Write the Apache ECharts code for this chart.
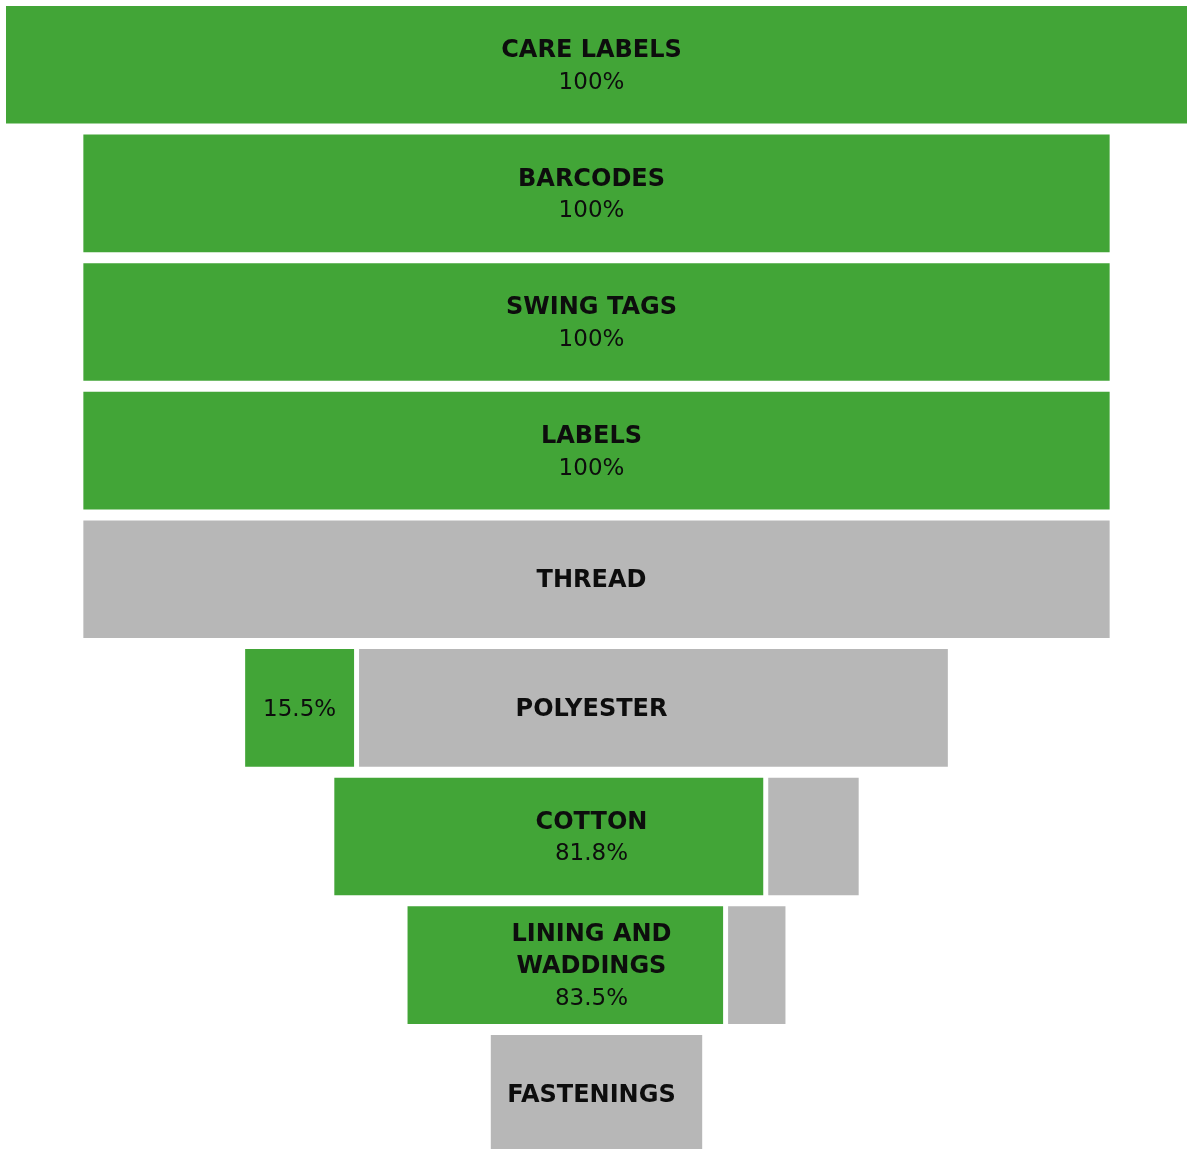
<!DOCTYPE html>
<html>
<head>
<meta charset="utf-8">
<style>
  html, body { margin: 0; padding: 0; background: #ffffff; }
  #chart { width: 1187px; height: 1149px; }
</style>
<script src="https://cdn.jsdelivr.net/npm/echarts@6/dist/echarts.min.js"></script>
</head>
<body>
<div id="chart"></div>
<script>
// Trim categories, top to bottom
const categories = [
  'CARE LABELS',
  'BARCODES',
  'SWING TAGS',
  'LABELS',
  'THREAD',
  'POLYESTER',
  'COTTON',
  'LINING AND\nWADDINGS',
  'FASTENINGS'
];

// Overall bar size of each category (relative, widest = 100)
const barSizes = [100, 86.9, 86.9, 86.9, 86.9, 59.5, 44.4, 32.0, 17.9];

// Share achieved, in percent (null = no figure reported)
const achievedShares = [100, 100, 100, 100, null, 15.5, 81.8, 83.5, null];

const GREEN = '#42a537';
const GREY = '#b7b7b7';
const TEXT = '#0d0d0d';
const FONT_FAMILY = '"DejaVu Sans", sans-serif';

// Row pitch in pixels; the last row runs off the bottom of the canvas
const ROW_PITCH = 128.625;
const GRID_TOP = 0.44;
const GRID_HEIGHT = 1149 - GRID_TOP;

const seriesData = categories.map((name, i) => [i, barSizes[i], achievedShares[i]]);

function renderRow(params, api) {
  const idx = api.value(0);
  const size = api.value(1);
  const shareRaw = api.value(2);
  const share = (shareRaw == null || isNaN(shareRaw)) ? null : shareRaw;

  const left = -size / 2;
  const right = size / 2;
  const band = Math.abs(api.size([0, 1])[1]);
  const h = band * 0.914;

  const pL = api.coord([left, idx]);
  const pR = api.coord([right, idx]);
  const cy = pL[1];
  const y0 = cy - h / 2;

  const children = [];
  const gap = 5;

  let greenEnd = pL[0];
  if (share != null && share > 0) {
    const split = api.coord([left + size * share / 100, idx])[0];
    greenEnd = split;
    children.push({
      type: 'rect',
      shape: { x: pL[0], y: y0, width: split - pL[0], height: h },
      style: { fill: GREEN }
    });
  }
  if (share == null || share < 100) {
    const gStart = (share != null && share > 0) ? greenEnd + gap : pL[0];
    children.push({
      type: 'rect',
      shape: { x: gStart, y: y0, width: pR[0] - gStart, height: h },
      style: { fill: GREY }
    });
  }

  const name = categories[idx];
  const nameLines = name.split('\n').length;
  const lineH = 32;
  const cx = (pL[0] + pR[0]) / 2 - 5;
  const ty = cy + 2;
  const boldFont = 'bold 24px ' + FONT_FAMILY;
  const regFont = '23px ' + FONT_FAMILY;

  const pctText = share != null ? share + '%' : null;
  const splitLabel = share != null && share < 50;

  if (pctText && !splitLabel) {
    const totalLines = nameLines + 1;
    const firstY = ty - (totalLines - 1) * lineH / 2;
    children.push({
      type: 'text',
      style: {
        text: name, x: cx, y: firstY - lineH / 2,
        font: boldFont, fill: TEXT, align: 'center', verticalAlign: 'top',
        lineHeight: lineH
      }
    });
    children.push({
      type: 'text',
      style: {
        text: pctText, x: cx, y: firstY + nameLines * lineH,
        font: regFont, fill: TEXT, align: 'center', verticalAlign: 'middle'
      }
    });
  } else {
    children.push({
      type: 'text',
      style: {
        text: name, x: cx, y: ty,
        font: boldFont, fill: TEXT, align: 'center', verticalAlign: 'middle',
        lineHeight: lineH
      }
    });
    if (pctText) {
      children.push({
        type: 'text',
        style: {
          text: pctText, x: (pL[0] + greenEnd) / 2, y: ty,
          font: regFont, fill: TEXT, align: 'center', verticalAlign: 'middle'
        }
      });
    }
  }

  return { type: 'group', children: children };
}

const chart = echarts.init(document.getElementById('chart'), null, { renderer: 'canvas' });

chart.setOption({
  animation: false,
  backgroundColor: '#ffffff',
  grid: { left: 6, right: 0, top: GRID_TOP, height: GRID_HEIGHT, containLabel: false },
  xAxis: {
    type: 'value',
    min: -50,
    max: 50,
    show: false
  },
  yAxis: {
    type: 'value',
    inverse: true,
    min: -0.5,
    max: -0.5 + GRID_HEIGHT / ROW_PITCH,
    show: false
  },
  series: [{
    type: 'custom',
    renderItem: renderRow,
    encode: { x: [1], y: 0 },
    data: seriesData,
    clip: false
  }]
});
</script>
</body>
</html>
